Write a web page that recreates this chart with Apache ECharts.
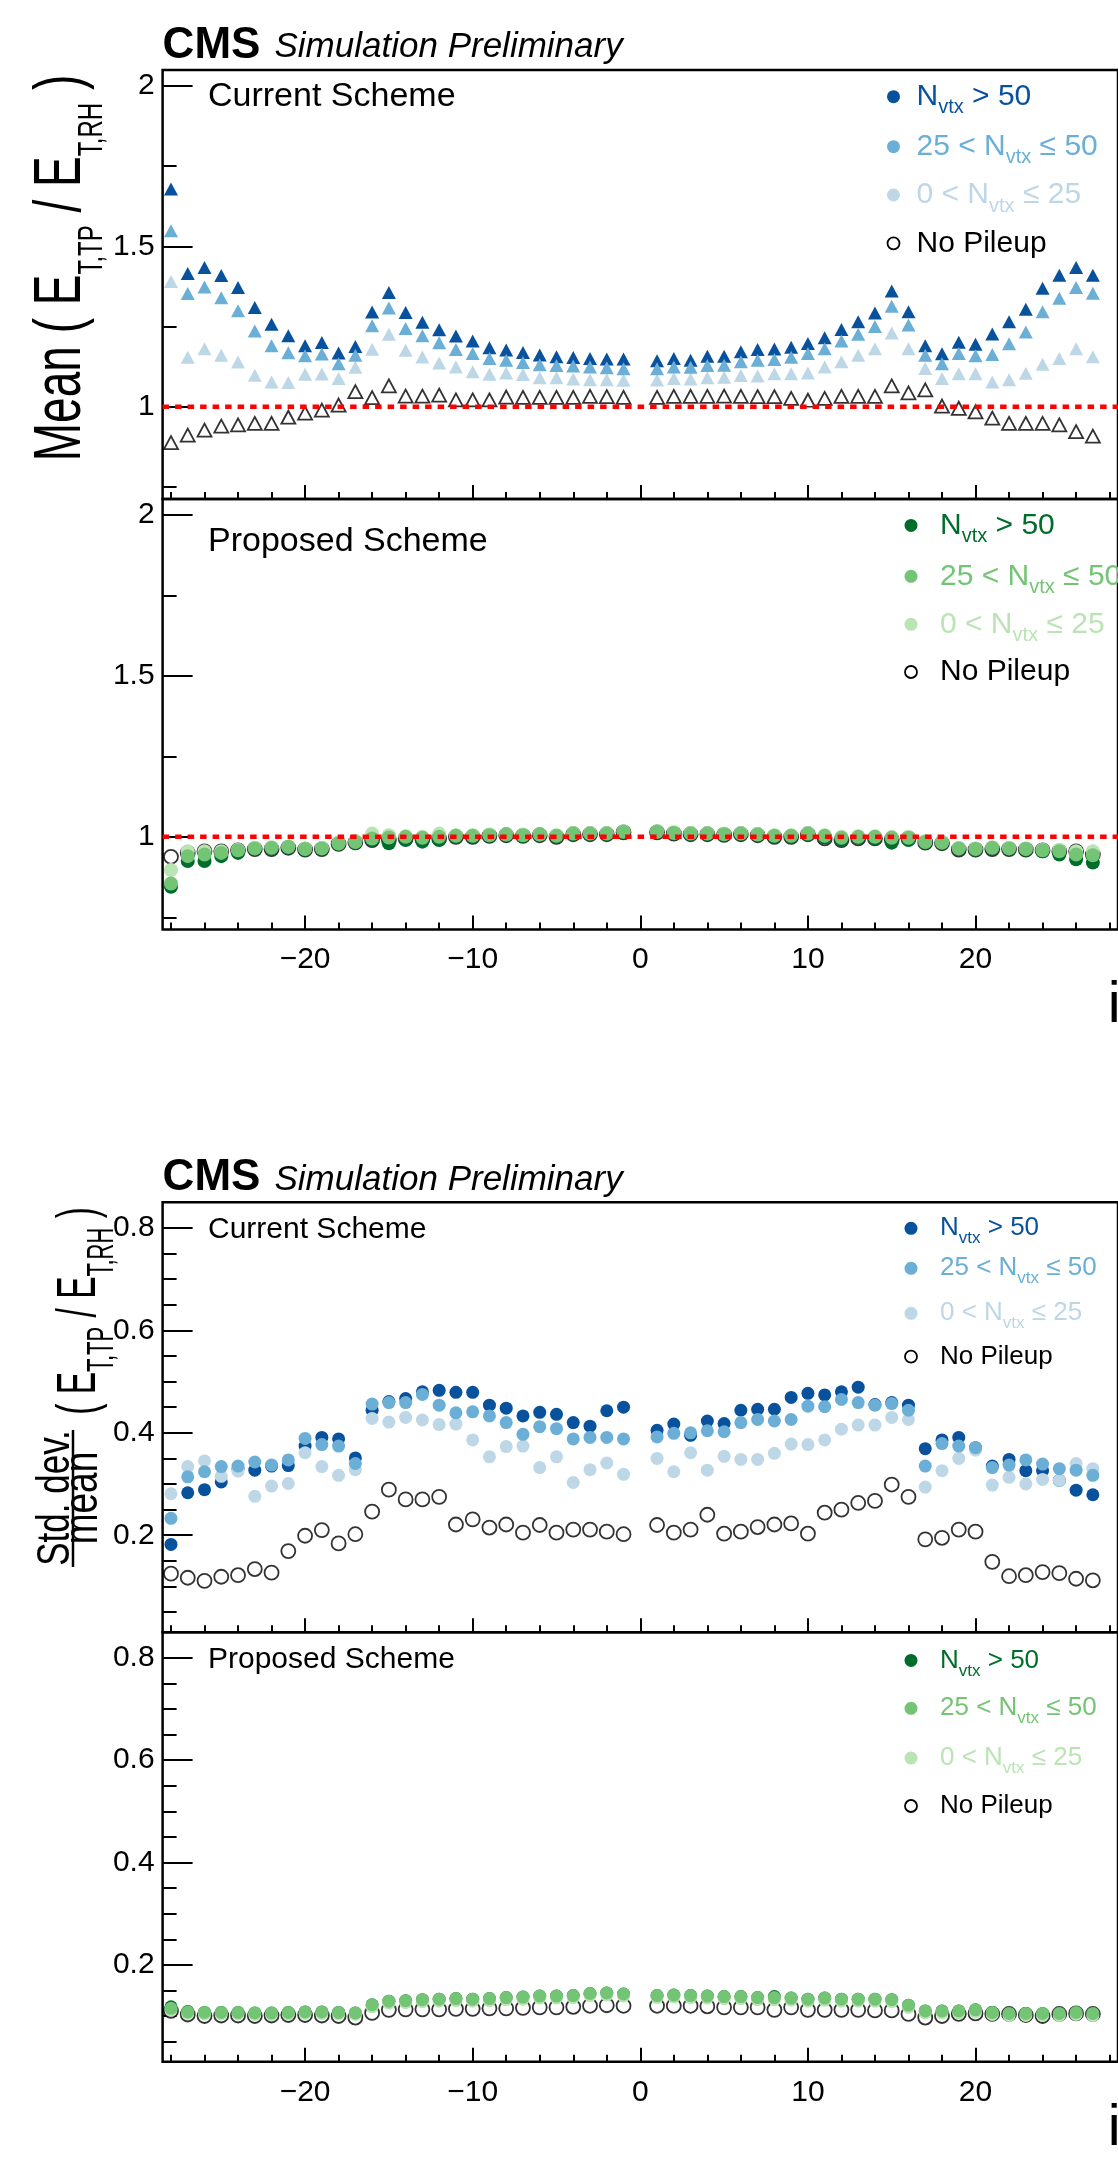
<!DOCTYPE html>
<html>
<head>
<meta charset="utf-8">
<script src="https://cdn.jsdelivr.net/npm/echarts@6.0.0/dist/echarts.min.js"></script>
<style>
html, body { margin: 0; padding: 0; background: #fff; }
#chart { width: 1118px; height: 2157px; }
</style>
</head>
<body>
<div id="chart"></div>
<script>
// i-eta bins (no 0), the right edge of the picture cuts at ~27
var etas = [-28, -27, -26, -25, -24, -23, -22, -21, -20, -19, -18, -17, -16, -15, -14, -13, -12, -11, -10, -9, -8, -7, -6, -5, -4, -3, -2, -1,
  1, 2, 3, 4, 5, 6, 7, 8, 9, 10, 11, 12, 13, 14, 15, 16, 17, 18, 19, 20, 21, 22, 23, 24, 25, 26, 27]

// Mean(E_T,TP / E_T,RH), current scheme
var curMeanHigh = [1.679, 1.415, 1.434, 1.409, 1.372, 1.309, 1.257, 1.221, 1.190, 1.200, 1.167, 1.188, 1.295, 1.356, 1.294, 1.263, 1.240, 1.220, 1.205, 1.184, 1.177, 1.169, 1.161, 1.156, 1.153, 1.150, 1.149, 1.149,
  1.143, 1.150, 1.145, 1.157, 1.157, 1.171, 1.178, 1.180, 1.185, 1.197, 1.215, 1.241, 1.265, 1.292, 1.361, 1.296, 1.190, 1.165, 1.201, 1.195, 1.227, 1.265, 1.304, 1.369, 1.410, 1.434, 1.410]
var curMeanMid = [1.549, 1.353, 1.373, 1.340, 1.299, 1.236, 1.190, 1.168, 1.159, 1.164, 1.134, 1.160, 1.252, 1.308, 1.244, 1.221, 1.199, 1.178, 1.166, 1.150, 1.145, 1.138, 1.131, 1.128, 1.127, 1.124, 1.121, 1.118,
  1.118, 1.124, 1.123, 1.128, 1.129, 1.140, 1.145, 1.147, 1.154, 1.166, 1.181, 1.205, 1.226, 1.250, 1.313, 1.255, 1.160, 1.134, 1.166, 1.159, 1.163, 1.196, 1.233, 1.296, 1.338, 1.372, 1.354]
var curMeanLow = [1.390, 1.154, 1.181, 1.160, 1.139, 1.098, 1.077, 1.075, 1.101, 1.102, 1.088, 1.123, 1.179, 1.226, 1.176, 1.155, 1.136, 1.124, 1.109, 1.101, 1.105, 1.100, 1.090, 1.090, 1.086, 1.084, 1.084, 1.082,
  1.083, 1.088, 1.086, 1.090, 1.092, 1.097, 1.096, 1.103, 1.103, 1.105, 1.124, 1.140, 1.160, 1.181, 1.230, 1.181, 1.119, 1.088, 1.103, 1.103, 1.077, 1.084, 1.104, 1.132, 1.150, 1.181, 1.156]
var curMeanNoPU = [0.888, 0.911, 0.927, 0.939, 0.943, 0.948, 0.948, 0.967, 0.980, 0.989, 1.005, 1.047, 1.028, 1.065, 1.033, 1.033, 1.036, 1.021, 1.021, 1.021, 1.030, 1.029, 1.029, 1.029, 1.029, 1.032, 1.031, 1.029,
  1.029, 1.032, 1.032, 1.032, 1.033, 1.032, 1.031, 1.031, 1.026, 1.020, 1.026, 1.032, 1.032, 1.032, 1.065, 1.043, 1.052, 1.002, 0.995, 0.984, 0.964, 0.948, 0.948, 0.948, 0.943, 0.922, 0.908]

// Mean, proposed scheme
var propMeanHigh = [0.845, 0.925, 0.925, 0.940, 0.950, 0.962, 0.964, 0.967, 0.960, 0.962, 0.977, 0.982, 0.990, 0.980, 0.990, 0.985, 0.990, 1.000, 1.000, 1.003, 1.005, 1.002, 1.005, 1.000, 1.008, 1.008, 1.008, 1.014,
  1.014, 1.010, 1.008, 1.008, 1.006, 1.008, 1.005, 1.000, 1.000, 1.007, 0.998, 0.990, 0.997, 0.995, 0.982, 0.990, 0.982, 0.980, 0.962, 0.960, 0.964, 0.962, 0.960, 0.955, 0.945, 0.930, 0.920]
var propMeanMid = [0.855, 0.940, 0.945, 0.950, 0.958, 0.964, 0.966, 0.969, 0.962, 0.964, 0.979, 0.984, 0.995, 0.998, 1.000, 0.997, 1.000, 1.003, 1.003, 1.005, 1.007, 1.005, 1.007, 1.003, 1.010, 1.010, 1.010, 1.016,
  1.016, 1.012, 1.010, 1.010, 1.008, 1.010, 1.007, 1.003, 1.003, 1.010, 1.003, 0.997, 1.000, 1.000, 0.997, 0.997, 0.984, 0.982, 0.964, 0.962, 0.966, 0.964, 0.962, 0.958, 0.955, 0.945, 0.943]
var propMeanLow = [0.897, 0.955, 0.955, 0.955, 0.960, 0.966, 0.968, 0.970, 0.964, 0.966, 0.982, 0.988, 1.010, 1.005, 1.002, 1.000, 1.010, 1.005, 1.005, 1.007, 1.008, 1.007, 1.008, 1.005, 1.012, 1.012, 1.012, 1.017,
  1.017, 1.014, 1.012, 1.012, 1.010, 1.012, 1.009, 1.005, 1.005, 1.012, 1.005, 1.000, 1.002, 1.002, 1.000, 1.000, 0.987, 0.984, 0.966, 0.964, 0.968, 0.966, 0.964, 0.960, 0.960, 0.955, 0.955]
var propMeanNoPU = [0.938, 0.950, 0.955, 0.955, 0.958, 0.962, 0.962, 0.966, 0.960, 0.962, 0.978, 0.983, 0.990, 0.990, 0.995, 0.993, 0.995, 1.000, 1.000, 1.003, 1.005, 1.003, 1.005, 1.000, 1.008, 1.008, 1.008, 1.014,
  1.014, 1.010, 1.008, 1.008, 1.006, 1.008, 1.005, 1.000, 1.000, 1.008, 0.995, 0.990, 0.995, 0.995, 0.992, 0.995, 0.982, 0.980, 0.960, 0.960, 0.962, 0.962, 0.960, 0.958, 0.955, 0.955, 0.945]

// Std.dev./mean, current scheme
var curResHigh = [0.182, 0.283, 0.289, 0.304, 0.330, 0.327, 0.335, 0.336, 0.374, 0.391, 0.388, 0.351, 0.444, 0.461, 0.467, 0.480, 0.483, 0.479, 0.479, 0.454, 0.448, 0.433, 0.440, 0.436, 0.420, 0.413, 0.443, 0.450,
  0.405, 0.417, 0.395, 0.423, 0.418, 0.444, 0.446, 0.446, 0.469, 0.477, 0.474, 0.480, 0.489, 0.455, 0.459, 0.454, 0.369, 0.386, 0.391, 0.371, 0.335, 0.348, 0.326, 0.326, 0.307, 0.288, 0.279]
var curResMid = [0.233, 0.314, 0.324, 0.334, 0.335, 0.343, 0.337, 0.347, 0.389, 0.377, 0.374, 0.340, 0.456, 0.459, 0.459, 0.475, 0.454, 0.439, 0.441, 0.433, 0.420, 0.397, 0.412, 0.408, 0.388, 0.391, 0.391, 0.388,
  0.392, 0.399, 0.400, 0.404, 0.402, 0.420, 0.426, 0.423, 0.426, 0.452, 0.451, 0.465, 0.459, 0.454, 0.457, 0.444, 0.335, 0.379, 0.374, 0.371, 0.332, 0.337, 0.347, 0.339, 0.330, 0.327, 0.317]
var curResLow = [0.281, 0.334, 0.345, 0.315, 0.325, 0.276, 0.296, 0.301, 0.361, 0.334, 0.317, 0.328, 0.428, 0.421, 0.430, 0.425, 0.416, 0.417, 0.386, 0.353, 0.373, 0.374, 0.332, 0.353, 0.303, 0.328, 0.341, 0.319,
  0.350, 0.324, 0.361, 0.327, 0.354, 0.348, 0.348, 0.360, 0.378, 0.377, 0.386, 0.407, 0.415, 0.415, 0.430, 0.426, 0.294, 0.326, 0.350, 0.366, 0.298, 0.313, 0.300, 0.309, 0.307, 0.340, 0.330]
var curResNoPU = [0.125, 0.117, 0.111, 0.119, 0.122, 0.134, 0.127, 0.169, 0.199, 0.210, 0.184, 0.202, 0.246, 0.289, 0.270, 0.270, 0.275, 0.221, 0.231, 0.215, 0.221, 0.205, 0.220, 0.205, 0.211, 0.211, 0.207, 0.202,
  0.220, 0.205, 0.211, 0.240, 0.203, 0.207, 0.216, 0.221, 0.223, 0.203, 0.244, 0.250, 0.263, 0.267, 0.299, 0.275, 0.192, 0.195, 0.211, 0.207, 0.148, 0.120, 0.122, 0.128, 0.126, 0.115, 0.112]

// Std.dev./mean, proposed scheme
var propResHigh = [0.118, 0.109, 0.107, 0.107, 0.107, 0.106, 0.106, 0.107, 0.108, 0.108, 0.107, 0.106, 0.122, 0.129, 0.130, 0.132, 0.133, 0.134, 0.133, 0.134, 0.136, 0.137, 0.139, 0.139, 0.140, 0.144, 0.145, 0.143,
  0.140, 0.141, 0.140, 0.139, 0.138, 0.138, 0.136, 0.138, 0.135, 0.133, 0.135, 0.133, 0.133, 0.133, 0.132, 0.121, 0.110, 0.110, 0.110, 0.112, 0.107, 0.105, 0.105, 0.105, 0.105, 0.107, 0.105]
var propResMid = [0.115, 0.108, 0.107, 0.107, 0.107, 0.106, 0.106, 0.107, 0.108, 0.108, 0.107, 0.106, 0.122, 0.129, 0.130, 0.132, 0.133, 0.134, 0.133, 0.134, 0.136, 0.137, 0.139, 0.139, 0.140, 0.144, 0.145, 0.143,
  0.140, 0.141, 0.140, 0.139, 0.138, 0.138, 0.136, 0.136, 0.135, 0.133, 0.135, 0.133, 0.133, 0.133, 0.132, 0.121, 0.110, 0.110, 0.110, 0.112, 0.107, 0.105, 0.105, 0.105, 0.105, 0.107, 0.105]
var propResLow = [0.112, 0.105, 0.104, 0.104, 0.104, 0.103, 0.103, 0.104, 0.105, 0.105, 0.104, 0.103, 0.118, 0.125, 0.126, 0.128, 0.129, 0.130, 0.129, 0.130, 0.132, 0.133, 0.135, 0.135, 0.136, 0.140, 0.141, 0.139,
  0.136, 0.137, 0.136, 0.135, 0.134, 0.134, 0.132, 0.132, 0.131, 0.129, 0.131, 0.129, 0.129, 0.129, 0.128, 0.117, 0.106, 0.106, 0.106, 0.108, 0.103, 0.101, 0.101, 0.101, 0.101, 0.103, 0.101]
var propResNoPU = [0.110, 0.103, 0.100, 0.101, 0.101, 0.100, 0.101, 0.102, 0.102, 0.101, 0.100, 0.097, 0.106, 0.112, 0.113, 0.113, 0.113, 0.114, 0.114, 0.115, 0.115, 0.116, 0.117, 0.117, 0.118, 0.120, 0.121, 0.120,
  0.120, 0.120, 0.120, 0.119, 0.117, 0.117, 0.117, 0.112, 0.117, 0.112, 0.112, 0.112, 0.112, 0.111, 0.111, 0.104, 0.097, 0.100, 0.104, 0.105, 0.104, 0.104, 0.102, 0.100, 0.104, 0.105, 0.104]

// ticks
var xMajor = [-20, -10, 0, 10, 20]
var xMinor = [-28, -26, -24, -22, -18, -16, -14, -12, -8, -6, -4, -2, 2, 4, 6, 8, 12, 14, 16, 18, 22, 24, 26, 28]
var meanMajor = [1, 1.5, 2]
var meanMinor = [0.75, 1.25, 1.75]
var resMajor = [0.2, 0.4, 0.6, 0.8]
var resMinor = [0.05, 0.1, 0.15, 0.25, 0.3, 0.35, 0.45, 0.5, 0.55, 0.65, 0.7, 0.75]

var FONT = '"Liberation Sans", Arial, Helvetica, sans-serif'
var blues = ['#08519c', '#6baed6', '#bdd7e7']
var greens = ['#006d2c', '#74c476', '#bae4b3']

var panels = [
  { top: 70, height: 429, min: 0.712, max: 2.05, major: meanMajor, minor: meanMinor, labels: false },
  { top: 499, height: 430.5, min: 0.712, max: 2.05, major: meanMajor, minor: meanMinor, labels: true, margin: 15 },
  { top: 1202.3, height: 430, min: 0.0105, max: 0.85, major: resMajor, minor: resMinor, labels: false },
  { top: 1632.3, height: 429.5, min: 0.0105, max: 0.85, major: resMajor, minor: resMinor, labels: true, margin: 16 }
]

var grids = [], xAxes = [], yAxes = []
panels.forEach(function (p, i) {
  grids.push({ left: 162.6, top: p.top, width: 983, height: p.height, show: true,
    borderColor: '#000', borderWidth: 2.5, backgroundColor: 'transparent' })
  xAxes.push({
    type: 'value', gridIndex: i, min: -28.5, max: 28.5, position: 'bottom',
    axisLine: { show: false, onZero: false }, splitLine: { show: false },
    axisTick: { show: true, inside: true, length: 14, customValues: xMajor, lineStyle: { color: '#000', width: 2 } },
    axisLabel: {
      show: p.labels, customValues: xMajor, margin: p.margin || 8, color: '#000', fontSize: 30, fontFamily: FONT,
      formatter: function (v) { return v < 0 ? '\u2212' + Math.abs(v) : String(v) }
    }
  })
  xAxes.push({
    type: 'value', gridIndex: i, min: -28.5, max: 28.5, position: 'bottom',
    axisLine: { show: false, onZero: false }, splitLine: { show: false }, axisLabel: { show: false },
    axisTick: { show: true, inside: true, length: 7, customValues: xMinor, lineStyle: { color: '#000', width: 2 } }
  })
  yAxes.push({
    type: 'value', gridIndex: i, min: p.min, max: p.max, position: 'left',
    axisLine: { show: false, onZero: false }, splitLine: { show: false },
    axisTick: { show: true, inside: true, length: 30, customValues: p.major, lineStyle: { color: '#000', width: 2 } },
    axisLabel: { customValues: p.major, margin: 8, color: '#000', fontSize: 30, fontFamily: FONT }
  })
  yAxes.push({
    type: 'value', gridIndex: i, min: p.min, max: p.max, position: 'left',
    axisLine: { show: false, onZero: false }, splitLine: { show: false }, axisLabel: { show: false },
    axisTick: { show: true, inside: true, length: 14, customValues: p.minor, lineStyle: { color: '#000', width: 2 } }
  })
})

function pts(vals) {
  return etas.map(function (e, i) { return [e, vals[i]] })
}

function scat(gi, vals, color, symbol, size, hollow) {
  return {
    type: 'scatter', xAxisIndex: gi * 2, yAxisIndex: gi * 2, data: pts(vals),
    symbol: symbol, symbolSize: size, silent: true,
    itemStyle: hollow ? { color: '#fff', borderColor: '#000', borderWidth: 1.8 } : { color: color, opacity: 1 }
  }
}

function unityLine(gi) {
  return {
    type: 'line', xAxisIndex: gi * 2, yAxisIndex: gi * 2, data: [[-28.5, 1], [28.5, 1]],
    symbol: 'none', silent: true, z: 5,
    lineStyle: { color: '#ff0000', width: 4.5, type: [6.5, 6] }
  }
}

var tri = [14, 13]
var series = [
  scat(0, curMeanNoPU, '#000', 'triangle', tri, true),
  scat(0, curMeanHigh, blues[0], 'triangle', tri),
  scat(0, curMeanLow, blues[2], 'triangle', tri),
  scat(0, curMeanMid, blues[1], 'triangle', tri),
  unityLine(0),
  scat(1, propMeanNoPU, '#000', 'circle', 14, true),
  scat(1, propMeanHigh, greens[0], 'circle', 14),
  scat(1, propMeanLow, greens[2], 'circle', 14),
  scat(1, propMeanMid, greens[1], 'circle', 14),
  unityLine(1),
  scat(2, curResNoPU, '#000', 'circle', 14, true),
  scat(2, curResHigh, blues[0], 'circle', 13),
  scat(2, curResLow, blues[2], 'circle', 13),
  scat(2, curResMid, blues[1], 'circle', 13),
  scat(3, propResNoPU, '#000', 'circle', 14, true),
  scat(3, propResHigh, greens[0], 'circle', 13),
  scat(3, propResLow, greens[2], 'circle', 13),
  scat(3, propResMid, greens[1], 'circle', 13)
]

// text helpers
function txt(x, y, text, font, extra) {
  var el = { type: 'text', x: x, y: y, silent: true,
    style: { text: text, font: font, fill: '#000', align: 'left', textAlign: 'left', verticalAlign: 'middle', textVerticalAlign: 'middle' } }
  if (extra) Object.keys(extra).forEach(function (k) { el.style[k] = extra[k] })
  return el
}

function legend(dotX, textX, ys, colors, size) {
  var sub = Math.round(size * 0.66)
  var pad = 6
  var labels = [['N', ' > 50'], ['25 < N', ' \u2264 50'], ['0 < N', ' \u2264 25']]
  var out = []
  labels.forEach(function (l, i) {
    out.push({ type: 'circle', silent: true, shape: { cx: dotX, cy: ys[i], r: 6.5 }, style: { fill: colors[i] } })
    out.push({ type: 'text', x: textX, y: ys[i] + pad / 2, silent: true, style: {
      text: '{m|' + l[0] + '}{s|vtx}{m|' + l[1] + '}',
      align: 'left', verticalAlign: 'middle',
      rich: {
        m: { fontSize: size, fontFamily: FONT, fill: colors[i], verticalAlign: 'bottom', padding: [0, 0, pad, 0] },
        s: { fontSize: sub, fontFamily: FONT, fill: colors[i], verticalAlign: 'bottom' }
      }
    } })
  })
  out.push({ type: 'circle', silent: true, shape: { cx: dotX, cy: ys[3], r: 6 }, style: { fill: '#fff', stroke: '#000', lineWidth: 1.8 } })
  out.push(txt(textX, ys[3], 'No Pileup', size + 'px ' + FONT))
  return out
}

function yTitle(x, y, scale, main, subSize, pad, prefix) {
  return { type: 'text', x: x, y: y, rotation: Math.PI / 2, scaleY: scale, silent: true, style: {
    text: '{a|' + prefix + '( E}{b|T,TP}{a| / E}{b|T,RH}{a| )}',
    align: 'center', verticalAlign: 'middle',
    rich: {
      a: { fontSize: main, fontFamily: FONT, fill: '#000', verticalAlign: 'bottom', padding: [0, 0, pad, 0] },
      b: { fontSize: subSize, fontFamily: FONT, fill: '#000', verticalAlign: 'bottom' }
    }
  } }
}

var graphics = [
  txt(162.6, 46, 'CMS', 'bold 44px ' + FONT),
  txt(274.5, 47.5, 'Simulation Preliminary', 'italic 35px ' + FONT),
  txt(208, 97, 'Current Scheme', '34px ' + FONT),
  txt(208, 542, 'Proposed Scheme', '34px ' + FONT),
  txt(1153, 1006, 'i\u03b7', '58px ' + FONT, { align: 'right', textAlign: 'right' }),
  yTitle(69, 268, 1.45, 46, 24, 10, 'Mean '),

  txt(162.6, 1178.3, 'CMS', 'bold 44px ' + FONT),
  txt(274.5, 1180.5, 'Simulation Preliminary', 'italic 35px ' + FONT),
  txt(208, 1230, 'Current Scheme', '30px ' + FONT),
  txt(208, 1659.5, 'Proposed Scheme', '30px ' + FONT),
  txt(1153, 2129, 'i\u03b7', '58px ' + FONT, { align: 'right', textAlign: 'right' }),
  { type: 'text', x: 56, y: 1498, rotation: Math.PI / 2, scaleY: 1.3, silent: true,
    style: { text: 'Std. dev.', font: '35px ' + FONT, fill: '#000', align: 'center', verticalAlign: 'middle' } },
  { type: 'line', silent: true, shape: { x1: 73, y1: 1430, x2: 73, y2: 1567 }, style: { stroke: '#000', lineWidth: 2.5 } },
  { type: 'text', x: 84, y: 1498, rotation: Math.PI / 2, scaleY: 1.3, silent: true,
    style: { text: 'mean', font: '37px ' + FONT, fill: '#000', align: 'center', verticalAlign: 'middle' } },
  yTitle(86, 1311, 1.65, 33.5, 22, 8, '')
]
graphics = graphics
  .concat(legend(893.5, 916.5, [96.7, 146.7, 195, 243.3], blues, 30))
  .concat(legend(911, 940, [525.4, 576.3, 624.3, 672], greens, 30))
  .concat(legend(911, 940, [1228.3, 1268.3, 1313.3, 1356.7], blues, 26))
  .concat(legend(911, 940, [1660.4, 1708.3, 1758.1, 1806], greens, 26))

var chart = echarts.init(document.getElementById('chart'))
chart.setOption({
  animation: false,
  backgroundColor: '#fff',
  grid: grids,
  xAxis: xAxes,
  yAxis: yAxes,
  series: series,
  graphic: graphics
})
</script>
</body>
</html>
